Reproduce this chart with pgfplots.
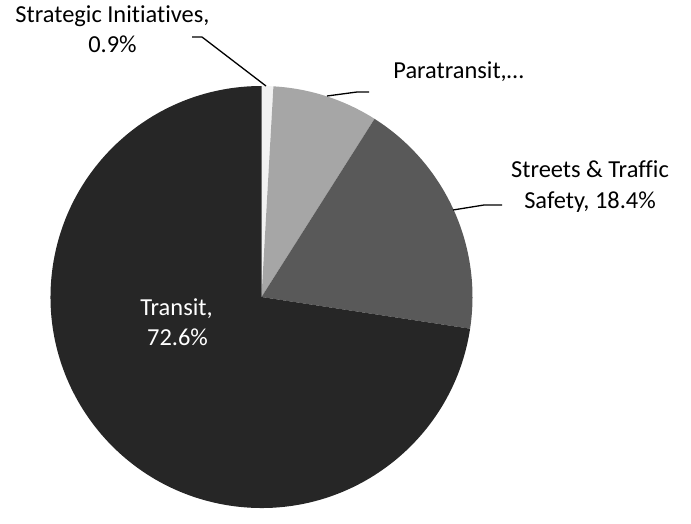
\documentclass[border=0pt]{standalone}
\usepackage{fontspec}
\setmainfont{Carlito}[Ligatures=NoCommon]
\usepackage{pgfplots}
\pgfplotsset{compat=1.18}
\definecolor{cStrat}{HTML}{F2F2F2}
\definecolor{cPara}{HTML}{A6A6A6}
\definecolor{cStreet}{HTML}{595959}
\definecolor{cTransit}{HTML}{262626}
\begin{document}
\begin{tikzpicture}
\begin{axis}[
  x=1bp, y=1bp,
  xmin=0, xmax=691, ymin=0, ymax=508,
  hide axis, clip=false,
]
\path (axis cs:0,0) rectangle (axis cs:691,508);
% shares (percent): Strategic 0.9, Paratransit 8.1, Streets 18.4, Transit 72.6
% pie starts at 12 o'clock and runs clockwise
\fill[cStrat] (axis cs:261.5,211) -- ++(90:211bp)
  arc[start angle=90, end angle={90-0.9*3.6}, radius=211bp] -- cycle;
\fill[cPara] (axis cs:261.5,211) -- ++({90-0.9*3.6}:211bp)
  arc[start angle={90-0.9*3.6}, end angle={90-(0.9+8.1)*3.6}, radius=211bp] -- cycle;
\fill[cStreet] (axis cs:261.5,211) -- ++({90-(0.9+8.1)*3.6}:211bp)
  arc[start angle={90-(0.9+8.1)*3.6}, end angle={90-(0.9+8.1+18.4)*3.6}, radius=211bp] -- cycle;
\fill[cTransit] (axis cs:261.5,211) -- ++({90-(0.9+8.1+18.4)*3.6}:211bp)
  arc[start angle={90-(0.9+8.1+18.4)*3.6}, end angle={90-(0.9+8.1+18.4+72.6)*3.6}, radius=211bp] -- cycle;
% leader lines
\draw[black, line width=1.3bp] (axis cs:192,471) -- (axis cs:202,471) -- (axis cs:266,422);
\draw[black, line width=1.3bp] (axis cs:327,412) -- (axis cs:357,416) -- (axis cs:369,416);
\draw[black, line width=1.3bp] (axis cs:453,298) -- (axis cs:484,303) -- (axis cs:502,303);
% labels
\tikzset{lab/.style={anchor=base, inner sep=0pt, font=\fontsize{24.5}{30}\selectfont}}
\node[lab] at (axis cs:112.5,485) {Strategic Initiatives,};
\node[lab] at (axis cs:112.5,455) {0.9\%};
\node[lab] at (axis cs:458.5,429) {Paratransit,…};
\node[lab] at (axis cs:590,331) {Streets \& Traffic};
\node[lab] at (axis cs:590,300) {Safety, 18.4\%};
\node[lab, text=white] at (axis cs:176.5,193) {Transit,};
\node[lab, text=white] at (axis cs:177.5,163) {72.6\%};
\end{axis}
\end{tikzpicture}
\end{document}
